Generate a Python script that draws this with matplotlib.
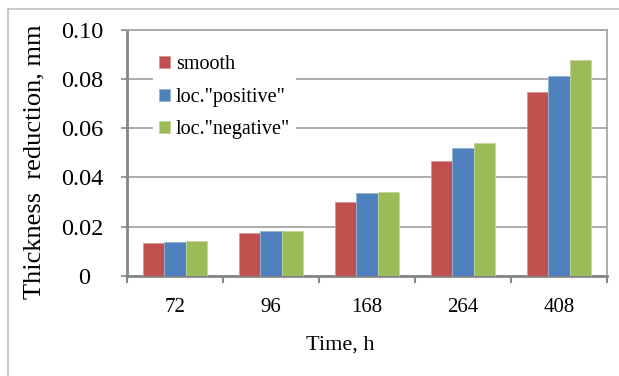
import matplotlib
matplotlib.use("Agg")
import matplotlib.pyplot as plt
from matplotlib.lines import Line2D
import numpy as np

# data
hours = ["72", "96", "168", "264", "408"]
smooth = [0.0133, 0.0174, 0.0300, 0.0465, 0.0748]
loc_positive = [0.0137, 0.0184, 0.0336, 0.0519, 0.0812]
loc_negative = [0.0141, 0.0184, 0.0341, 0.0538, 0.0878]
series_names = ["smooth", 'loc."positive"', 'loc."negative"']
yticks = [0, 0.02, 0.04, 0.06, 0.08, 0.10]
ytick_labels = ["0  ", "0.02", "0.04", "0.06", "0.08", "0.10"]

colors = ["#C0504D", "#4F81BD", "#9BBB59"]
edges = ["#D99694", "#95B3D7", "#C3D69B"]

plt.rcParams["font.family"] = ["Liberation Serif", "DejaVu Serif"]

W, H = 619, 376
fig = plt.figure(figsize=(W / 100, H / 100), dpi=100)
ax = fig.add_axes([127 / W, 1 - 276 / H, (607 - 127) / W, (276 - 29.5) / H])

x = np.arange(len(hours))
bw = 0.222
for i, vals in enumerate([smooth, loc_positive, loc_negative]):
    ax.bar(x + (i - 1) * bw, vals, width=bw, color=colors[i], edgecolor=edges[i],
           linewidth=0.6, label=series_names[i], zorder=3)

ax.set_xlim(-0.5, len(hours) - 0.5)
ax.set_ylim(0, 0.10)

# gridlines
ax.set_yticks(yticks)
ax.set_yticklabels(ytick_labels, fontsize=17.5)
ax.yaxis.grid(True, color="#A6A6A6", linewidth=1.3, zorder=0)
ax.set_axisbelow(True)

# category ticks between groups, labels at centres
ax.set_xticks(np.arange(len(hours) + 1) - 0.5)
ax.set_xticklabels([])
ax.set_xticks(x, minor=True)
ax.set_xticklabels(hours, minor=True, fontsize=15)
ax.tick_params(axis="x", which="major", direction="out", length=5, width=1.5, color="#868686")
ax.tick_params(axis="x", which="minor", length=0, pad=16)
ax.tick_params(axis="y", direction="out", length=4, width=1.2, color="#868686", pad=13)

for s in ["left", "bottom"]:
    ax.spines[s].set_color("#868686")
    ax.spines[s].set_linewidth(2)
for s in ["top", "right"]:
    ax.spines[s].set_color("#A6A6A6")
    ax.spines[s].set_linewidth(1.3)

leg = ax.legend(loc="upper left", bbox_to_anchor=(0.033, 0.96), fontsize=14.5,
                frameon=True, framealpha=1, facecolor="white", edgecolor="none",
                handlelength=0.55, handleheight=0.55, handletextpad=0.3,
                labelspacing=0.67, borderpad=0.3, fancybox=False)
leg.set_zorder(5)

fig.text(34 / W, 1 - 162 / H, "Thickness  reduction, mm", rotation=90,
         ha="center", va="center", fontsize=19)
fig.text(340 / W, 1 - 345 / H, "Time, h", ha="center", va="center", fontsize=16)

# outer chart border (only left and top visible)
fig.add_artist(Line2D([8 / W, 8 / W], [0, 1 - 9 / H], transform=fig.transFigure,
                      color="#BFBFBF", linewidth=1.2))
fig.add_artist(Line2D([8 / W, 1], [1 - 9 / H, 1 - 9 / H], transform=fig.transFigure,
                      color="#BFBFBF", linewidth=1.2))

fig.savefig("out.png", dpi=100)
